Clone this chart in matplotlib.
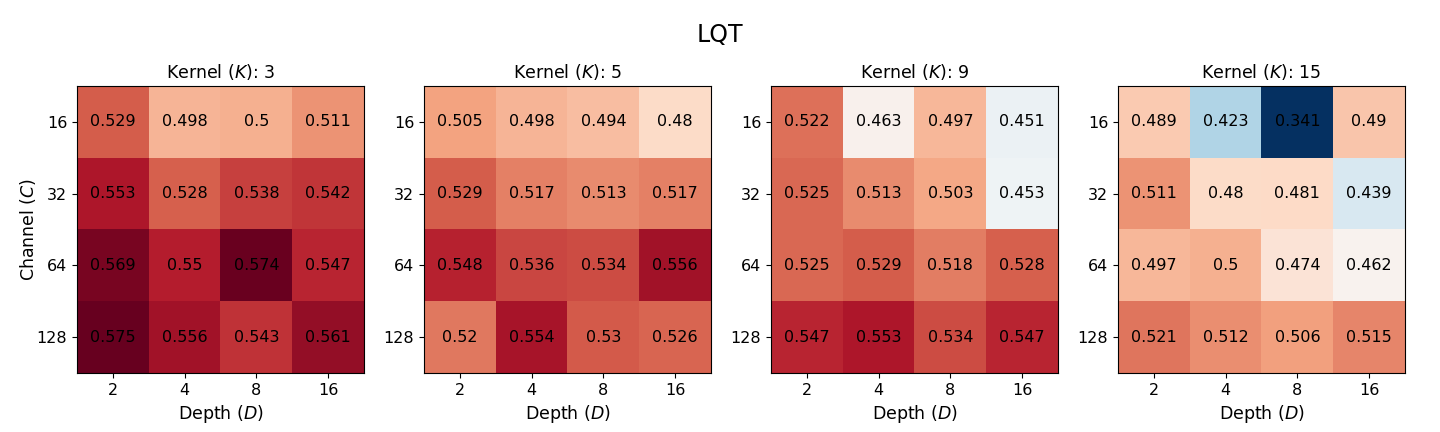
import numpy as np
import matplotlib
matplotlib.use('Agg')
import matplotlib.pyplot as plt

depths = [2, 4, 8, 16]
channels = [16, 32, 64, 128]
kernels = [3, 5, 9, 15]

# rows = channel, cols = depth
k3 = [[0.529, 0.498, 0.5, 0.511],
      [0.553, 0.528, 0.538, 0.542],
      [0.569, 0.55, 0.574, 0.547],
      [0.575, 0.556, 0.543, 0.561]]
k5 = [[0.505, 0.498, 0.494, 0.48],
      [0.529, 0.517, 0.513, 0.517],
      [0.548, 0.536, 0.534, 0.556],
      [0.52, 0.554, 0.53, 0.526]]
k9 = [[0.522, 0.463, 0.497, 0.451],
      [0.525, 0.513, 0.503, 0.453],
      [0.525, 0.529, 0.518, 0.528],
      [0.547, 0.553, 0.534, 0.547]]
k15 = [[0.489, 0.423, 0.341, 0.49],
       [0.511, 0.48, 0.481, 0.439],
       [0.497, 0.5, 0.474, 0.462],
       [0.521, 0.512, 0.506, 0.515]]

grids = [np.array(k3), np.array(k5), np.array(k9), np.array(k15)]
vmin = min(g.min() for g in grids)
vmax = max(g.max() for g in grids)

fig = plt.figure(figsize=(14.4, 4.32), dpi=100)
fig.text(0.5, 1 - 42 / 432, 'LQT', fontsize=17, ha='center', va='baseline')

for i, (k, g) in enumerate(zip(kernels, grids)):
    ax = fig.add_axes([(77 + 347 * i) / 1440, 59 / 432, 287 / 1440, 287 / 432])
    ax.imshow(g, cmap='RdBu_r', vmin=vmin, vmax=vmax)
    for r in range(len(channels)):
        for c in range(len(depths)):
            ax.text(c, r, str(g[r, c]), ha='center', va='center', fontsize=11.5)
    ax.set_xticks(range(len(depths)))
    ax.set_xticklabels(depths, fontsize=11.5)
    ax.set_yticks(range(len(channels)))
    ax.set_yticklabels(channels, fontsize=11.5)
    ax.set_xlabel('Depth ($D$)', fontsize=12.5)
    if i == 0:
        ax.set_ylabel('Channel ($C$)', fontsize=12.5, labelpad=-1)
    ax.set_title('Kernel ($K$): ' + str(k), fontsize=12.5)

fig.savefig('out.png', dpi=100)
